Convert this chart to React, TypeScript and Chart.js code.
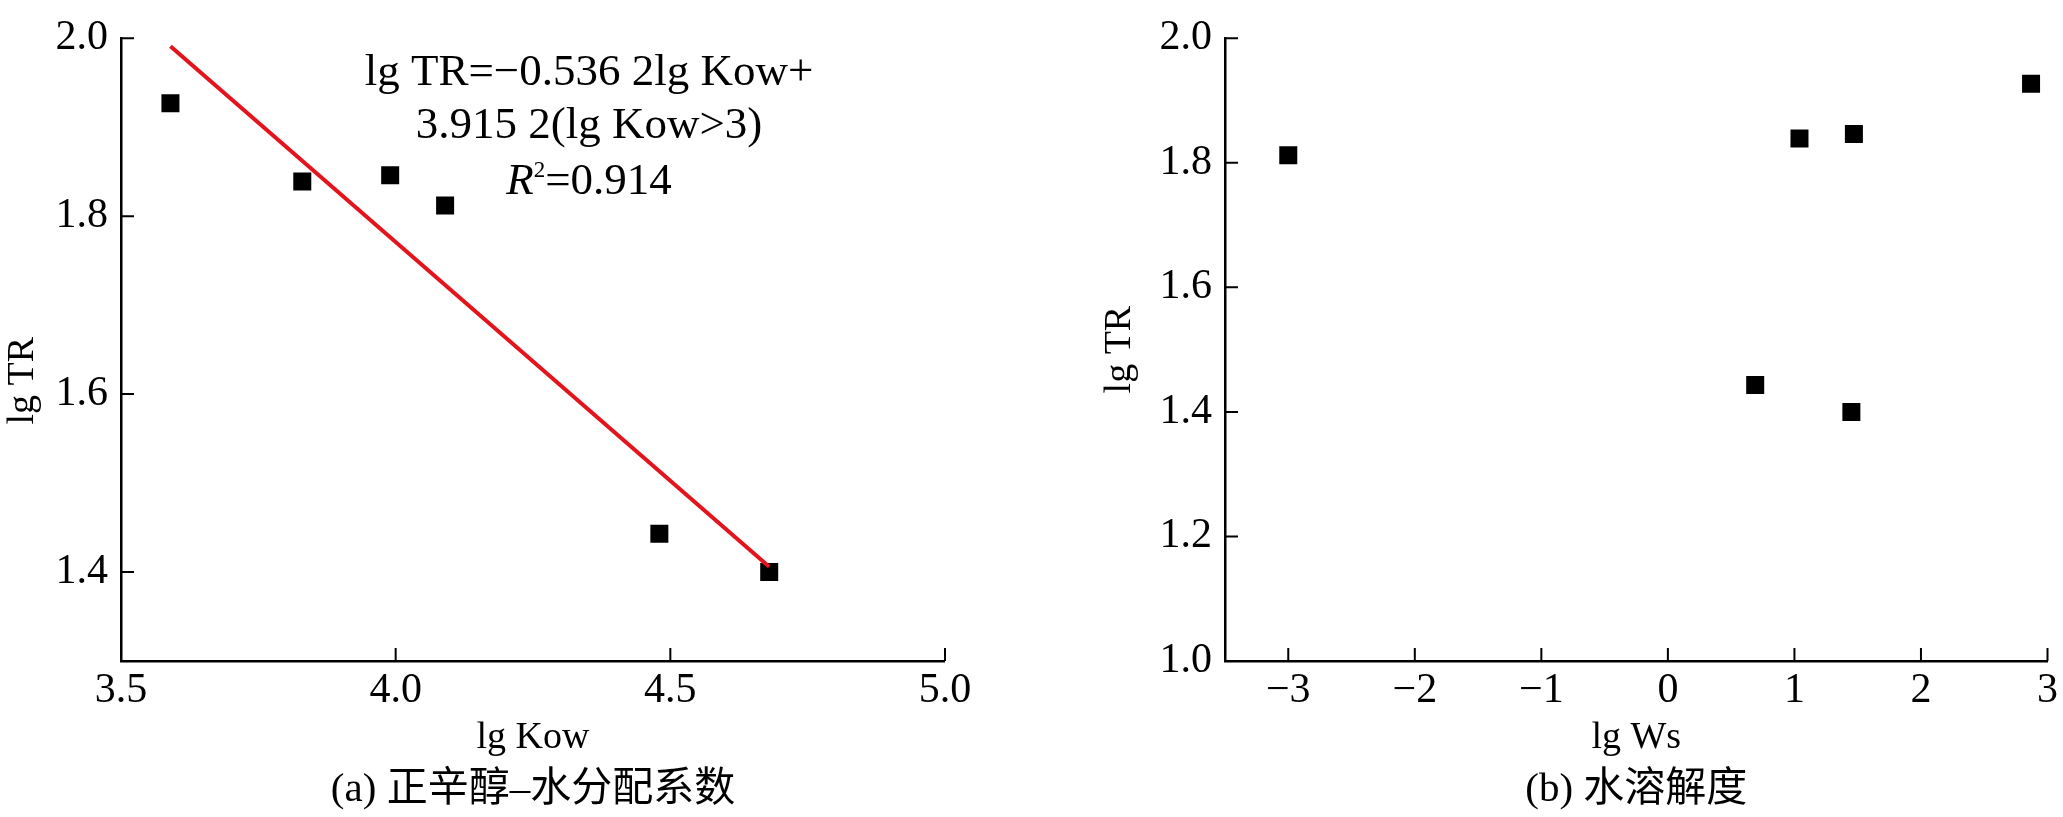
import React, { useEffect, useRef } from 'react';
import { Chart, registerables } from 'chart.js';

Chart.register(...registerables);

const SERIF = "'Liberation Serif', 'Times New Roman', 'Noto Sans CJK SC', serif";
Chart.defaults.font.family = SERIF;
Chart.defaults.color = '#000';

// values
const lgTR = [1.927, 1.839, 1.846, 1.812, 1.443, 1.4];
const lgKow = [3.59, 3.83, 3.99, 4.09, 4.48, 4.68];
const lgWs = [2.87, 1.04, 1.47, -3.0, 0.69, 1.45];

// regression line end points as drawn in panel (a)
const fitKow = [3.59, 4.68];
const fitTR = [1.991, 1.406];

// axis ticks
const kowTicks = [3.5, 4.0, 4.5, 5.0];
const wsTicks = [-3, -2, -1, 0, 1, 2, 3];
const trTicksA = [1.4, 1.6, 1.8, 2.0];
const trTicksB = [1.0, 1.2, 1.4, 1.6, 1.8, 2.0];

const eqLines = ['lg TR=\u22120.536 2lg Kow+', '3.915 2(lg Kow>3)'];
const r2Value = '=0.914';

// draws inward ticks, axis titles, captions and the fit equation
const decorPlugin = {
  id: 'decor',
  afterDraw(chart: any, _args: any, opts: any) {
    const { ctx, chartArea: area, scales } = chart;
    const xs = scales.x;
    const ys = scales.y;
    ctx.save();

    // ticks point into the plot
    ctx.strokeStyle = '#000';
    ctx.lineWidth = 2;
    ctx.beginPath();
    xs.ticks.forEach((t: any) => {
      const px = xs.getPixelForValue(t.value);
      ctx.moveTo(px, area.bottom);
      ctx.lineTo(px, area.bottom - 13);
    });
    ys.ticks.forEach((t: any) => {
      const py = ys.getPixelForValue(t.value);
      ctx.moveTo(area.left, py);
      ctx.lineTo(area.left + 13, py);
    });
    ctx.stroke();

    ctx.fillStyle = '#000';
    ctx.textAlign = 'center';
    ctx.textBaseline = 'alphabetic';
    const cx = (area.left + area.right) / 2;
    ctx.font = `38px ${SERIF}`;
    ctx.fillText(opts.xTitle, cx, area.bottom + 87);
    ctx.font = `41px ${SERIF}`;
    ctx.fillText(opts.caption, cx, area.bottom + 140);

    ctx.save();
    ctx.translate(area.left - opts.yTitleGap, ys.getPixelForValue(opts.yTitleAt));
    ctx.rotate(-Math.PI / 2);
    ctx.font = `38px ${SERIF}`;
    ctx.fillText(opts.yTitle, 0, 0);
    ctx.restore();

    if (opts.equation) {
      const ex = xs.getPixelForValue(4.352);
      ctx.font = `45px ${SERIF}`;
      ctx.fillText(eqLines[0], ex, area.top + 47);
      ctx.fillText(eqLines[1], ex, area.top + 100);

      const by = area.top + 156;
      ctx.font = `italic 45px ${SERIF}`;
      const wR = ctx.measureText('R').width;
      ctx.font = `23px ${SERIF}`;
      const w2 = ctx.measureText('2').width;
      ctx.font = `45px ${SERIF}`;
      const wRest = ctx.measureText(r2Value).width;
      const sx = ex - (wR + w2 + wRest) / 2;
      ctx.textAlign = 'left';
      ctx.font = `italic 45px ${SERIF}`;
      ctx.fillText('R', sx, by);
      ctx.font = `23px ${SERIF}`;
      ctx.fillText('2', sx + wR, by - 17);
      ctx.font = `45px ${SERIF}`;
      ctx.fillText(r2Value, sx + wR + w2, by);
    }
    ctx.restore();
  },
};

function axis(min: number, max: number, ticks: number[], fmt: (v: number) => string, vertical: boolean, size: number) {
  return {
    type: 'linear',
    min,
    max,
    afterBuildTicks: (s: any) => {
      s.ticks = ticks.map((v) => ({ value: v }));
    },
    afterFit: (s: any) => {
      if (vertical) s.width = size;
      else s.height = size;
    },
    grid: { display: true, drawOnChartArea: false, drawTicks: false, lineWidth: 0 },
    border: { display: true, color: '#000', width: 2.5 },
    ticks: {
      color: '#000',
      font: { family: SERIF, size: 42 },
      padding: vertical ? 13 : 5,
      autoSkip: false,
      maxRotation: 0,
      callback: (v: number) => fmt(v),
    },
  };
}

const oneDecimal = (v: number) => v.toFixed(1);
const signed = (v: number) => (v < 0 ? '\u2212' + Math.abs(v) : String(v));

const squares = (xs: number[]) => ({
  data: xs.map((x, i) => ({ x, y: lgTR[i] })),
  pointStyle: 'rect',
  pointRadius: 12.73,
  pointHoverRadius: 12.73,
  pointBackgroundColor: '#000',
  pointBorderWidth: 0,
  showLine: false,
});

function buildKowChart() {
  return {
    type: 'scatter',
    data: {
      datasets: [
        {
          data: fitKow.map((x, i) => ({ x, y: fitTR[i] })),
          showLine: true,
          borderColor: '#e3141b',
          borderWidth: 4,
          pointRadius: 0,
          pointHoverRadius: 0,
        },
        squares(lgKow),
      ],
    },
    options: {
      animation: false,
      responsive: true,
      maintainAspectRatio: false,
      events: [],
      layout: { padding: { left: 0, right: 85, top: 31, bottom: 0 } },
      scales: {
        x: axis(3.5, 5.0, kowTicks, oneDecimal, false, 156),
        y: axis(1.3, 2.0, trTicksA, oneDecimal, true, 121),
      },
      plugins: {
        legend: { display: false },
        tooltip: { enabled: false },
        decor: {
          xTitle: 'lg Kow',
          yTitle: 'lg TR',
          yTitleAt: 1.615,
          yTitleGap: 88,
          caption: '(a) 正辛醇\u2013水分配系数',
          equation: true,
        },
      },
    },
    plugins: [decorPlugin],
  };
}

function buildWsChart() {
  return {
    type: 'scatter',
    data: { datasets: [squares(lgWs)] },
    options: {
      animation: false,
      responsive: true,
      maintainAspectRatio: false,
      events: [],
      layout: { padding: { left: 0, right: 11, top: 31, bottom: 0 } },
      scales: {
        x: axis(-3.5, 3, wsTicks, signed, false, 156),
        y: axis(1.0, 2.0, trTicksB, oneDecimal, true, 195),
      },
      plugins: {
        legend: { display: false },
        tooltip: { enabled: false },
        decor: {
          xTitle: 'lg Ws',
          yTitle: 'lg TR',
          yTitleAt: 1.5,
          yTitleGap: 95,
          caption: '(b) 水溶解度',
          equation: false,
        },
      },
    },
    plugins: [decorPlugin],
  };
}

function Panel({ left, width, build }: { left: number; width: number; build: () => any }) {
  const canvasRef = useRef<HTMLCanvasElement>(null);

  useEffect(() => {
    const chart = new Chart(canvasRef.current as HTMLCanvasElement, build());
    return () => chart.destroy();
  }, [build]);

  return (
    <div style={{ position: 'absolute', left, top: 0, width, height: 817 }}>
      <canvas ref={canvasRef} />
    </div>
  );
}

export default function App() {
  return (
    <div style={{ position: 'absolute', left: 0, top: 0, width: 2063, height: 817, background: '#fff' }}>
      <Panel left={0} width={1030} build={buildKowChart} />
      <Panel left={1030} width={1033} build={buildWsChart} />
    </div>
  );
}
